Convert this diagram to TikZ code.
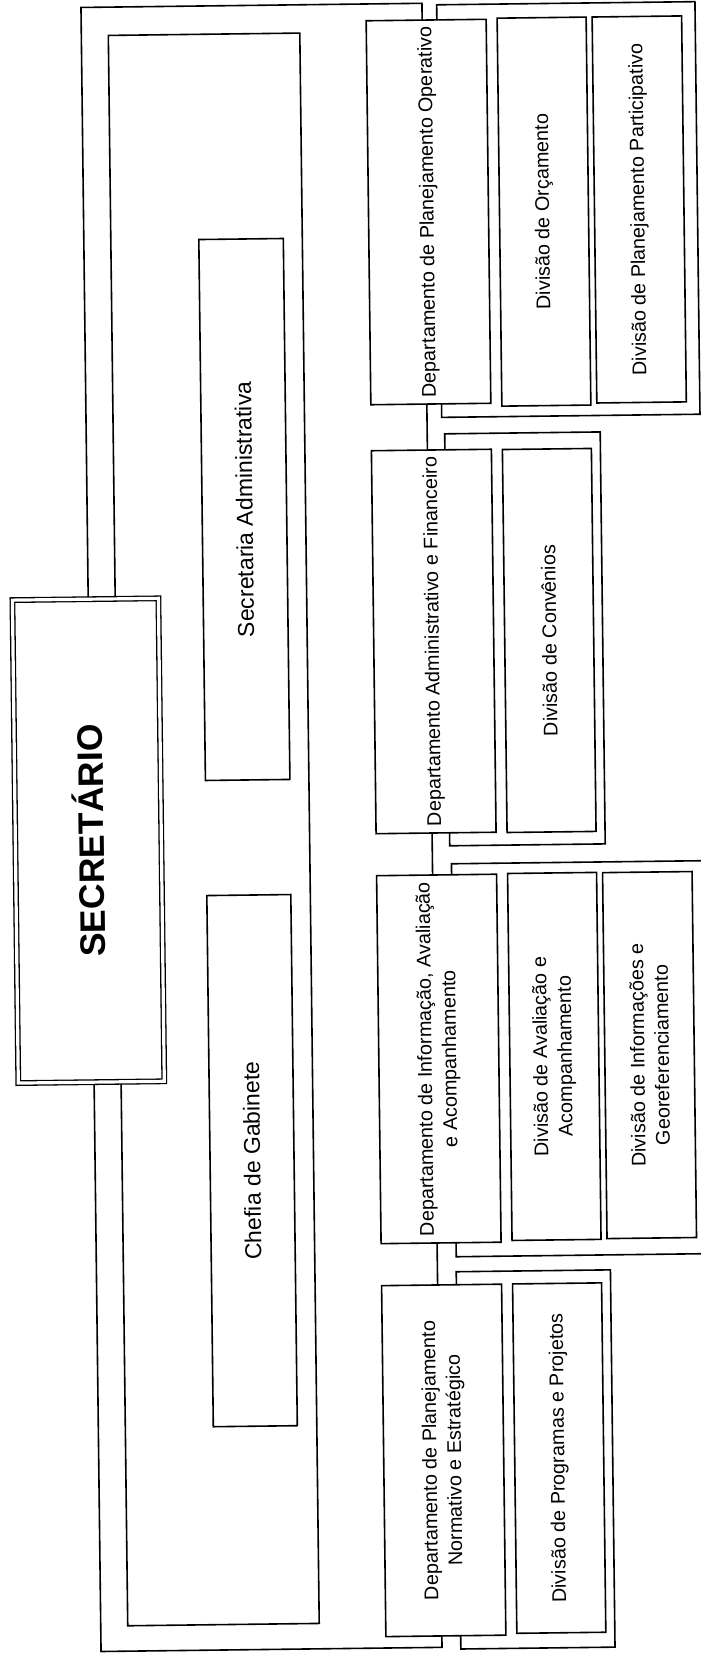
\documentclass[tikz,border=0pt]{standalone}
\usepackage{fontspec}
\setmainfont{Liberation Sans}
\newcommand\deptfont{\fontsize{19.8}{24.5}\selectfont}
\newcommand\staffbig{\fontsize{23}{27}\selectfont}
\newcommand\headfont{\fontsize{35.5}{40}\selectfont\bfseries}
\begin{document}
\begin{tikzpicture}[x=1pt, y=-1pt,
  outline/.style={draw, line width=1.6pt, shape=rectangle, inner sep=0pt},
  orgbox/.style={draw, line width=1.6pt, fill=white, rotate=90, inner sep=0pt,
                 align=center, font=\deptfont},
  staffbox/.style={orgbox, font=\staffbig},
  headbox/.style={draw, double, double distance=3.2pt, line width=1.3pt, fill=white,
                  rotate=90, inner sep=0pt, font=\headfont},
]
\useasboundingbox (0,0) rectangle (701,1655);
\clip (0,0) rectangle (701,1655);
\fill[white] (0,0) rectangle (701,1655);
\begin{scope}[rotate around={0.7:(350.5,827.5)}, transform shape]
  % outer frame: its right side is the trunk joining the departments
  \node[outline, minimum width=341pt, minimum height=1644.2pt] (frameA) at (261.5,826.3) {};
  % inner frame holding the staff units
  \node[outline, minimum width=191.5pt, minimum height=1590.5pt] (frameB) at (213.75,827.75) {};
  % group frames behind each department and its divisions
  \node[outline, minimum width=258.3pt, minimum height=412.6pt] (g1) at (575.85,212.2) {};
  \node[outline, minimum width=155.5pt, minimum height=412pt] (g2) at (527.25,641) {};
  \node[outline, minimum width=264pt, minimum height=393pt] (g3) at (583,1061.5) {};
  \node[outline, minimum width=154.2pt, minimum height=377.3pt] (g4) at (527.9,1461.65) {};

  % head of the secretariat
  \node[headbox, minimum width=483pt, minimum height=146pt] (sec) at (88.2,837.5) {SECRETÁRIO};

  % staff units
  \node[staffbox, minimum width=541pt, minimum height=84.5pt] (secadm) at (248.25,508.2) {Secretaria Administrativa};
  \node[staffbox, minimum width=531.2pt, minimum height=84pt] (chefia) at (248,1159.4) {Chefia de Gabinete};

  % departments
  \node[orgbox, minimum width=384pt, minimum height=120pt] (dOp) at (436,213) {Departamento de Planejamento Operativo};
  \node[orgbox, minimum width=383pt, minimum height=120pt] (dAdm) at (436,642.5) {Departamento Administrativo e Financeiro};
  \node[orgbox, minimum width=368pt, minimum height=120pt] (dInf) at (436,1060) {Departamento de Informação, Avaliação\\e Acompanhamento};
  \node[orgbox, minimum width=351pt, minimum height=120pt] (dNorm) at (436,1461.5) {Departamento de Planejamento\\Normativo e Estratégico};

  % divisions
  \node[orgbox, minimum width=388pt, minimum height=89pt] (vOrc) at (551.5,214) {Divisão de Orçamento};
  \node[orgbox, minimum width=386pt, minimum height=89.5pt] (vPart) at (646.75,213) {Divisão de Planejamento Participativo};
  \node[orgbox, minimum width=383pt, minimum height=89pt] (vConv) at (551.5,642.9) {Divisão de Convênios};
  \node[orgbox, minimum width=367pt, minimum height=89pt] (vAval) at (551.5,1058.9) {Divisão de Avaliação e\\Acompanhamento};
  \node[orgbox, minimum width=366pt, minimum height=89.5pt] (vInfo) at (646.75,1058.7) {Divisão de Informações e\\Georeferenciamento};
  \node[orgbox, minimum width=349.4pt, minimum height=89pt] (vProg) at (551.5,1460.6) {Divisão de Programas e Projetos};
\end{scope}
\end{tikzpicture}
\end{document}
